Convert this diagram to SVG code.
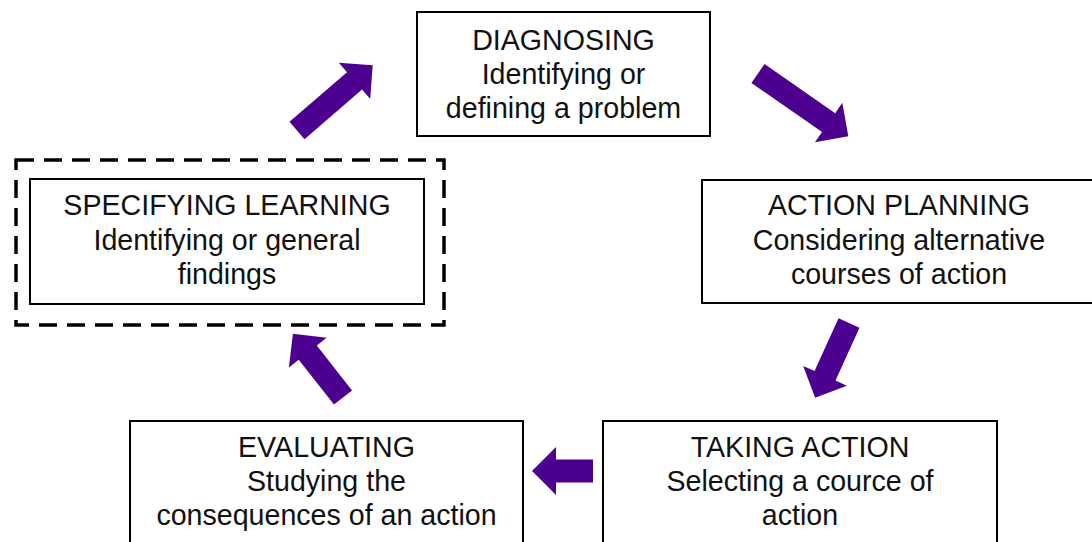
<svg xmlns="http://www.w3.org/2000/svg" width="1092" height="542" viewBox="0 0 1092 542">
<style>
.box{fill:#fff;stroke:#000;stroke-width:2}
.dash{fill:none;stroke:#000;stroke-width:3.5;stroke-dasharray:18 10}
text{font-family:"Liberation Sans",Arial,sans-serif;font-size:28.6px;fill:#111;text-anchor:middle}
.arr{fill:#4D0090}
</style>
<rect width="1092" height="542" fill="#fff"/>
<g id="specifying">
<rect class="dash" x="16" y="160" width="428" height="165"/>
<rect class="box" x="30" y="179" width="394" height="125"/>
<text x="227" y="215">SPECIFYING LEARNING</text>
<text x="227" y="250">Identifying or general</text>
<text x="227" y="284">findings</text>
</g>
<g id="diagnosing">
<rect class="box" x="417" y="12" width="293" height="124"/>
<text x="563.5" y="50">DIAGNOSING</text>
<text x="563.5" y="84">Identifying or</text>
<text x="563.5" y="118">defining a problem</text>
</g>
<g id="action-planning">
<rect class="box" x="702" y="180" width="396" height="123"/>
<text x="899" y="215">ACTION PLANNING</text>
<text x="899" y="250">Considering alternative</text>
<text x="899" y="284">courses of action</text>
</g>
<g id="taking-action">
<rect class="box" x="603" y="421" width="394" height="140"/>
<text x="800" y="457">TAKING ACTION</text>
<text x="800" y="491">Selecting a cource of</text>
<text x="800" y="525">action</text>
</g>
<g id="evaluating">
<rect class="box" x="130" y="421" width="393" height="140"/>
<text x="326.5" y="457">EVALUATING</text>
<text x="326.5" y="491">Studying the</text>
<text x="326.5" y="525">consequences of an action</text>
</g>
<g id="connectors">
<polygon class="arr" transform="translate(297,130.5) rotate(-40.8)" points="0,-11.5 76,-11.5 76,-24 100,0 76,24 76,11.5 0,11.5"/>
<polygon class="arr" transform="translate(758,73.5) rotate(34.8)" points="0,-11.5 86,-11.5 86,-24 110,0 86,24 86,11.5 0,11.5"/>
<polygon class="arr" transform="translate(849,323) rotate(114.4)" points="0,-11.5 58,-11.5 58,-24 82,0 58,24 58,11.5 0,11.5"/>
<polygon class="arr" transform="translate(593,471) rotate(180)" points="0,-11.5 37,-11.5 37,-24 61,0 37,24 37,11.5 0,11.5"/>
<polygon class="arr" transform="translate(343,397.5) rotate(-128.2)" points="0,-11.5 57,-11.5 57,-24 81,0 57,24 57,11.5 0,11.5"/>
</g>
</svg>
